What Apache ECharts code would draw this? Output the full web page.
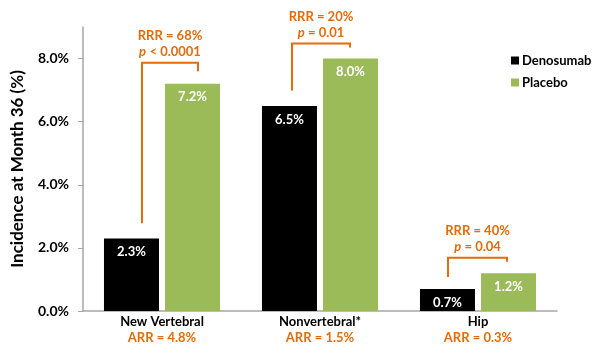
<!DOCTYPE html>
<html>
<head>
<meta charset="utf-8">
<script src="https://cdn.jsdelivr.net/npm/echarts@6/dist/echarts.min.js"></script>
<style>
html, body { margin: 0; padding: 0; background: #fff; }
#main { width: 600px; height: 354px; }
</style>
</head>
<body>
<div id="main"></div>
<script>
// data
var categories = ['New Vertebral', 'Nonvertebral*', 'Hip'];
var arrText = ['4.8%', '1.5%', '0.3%'];
var denosumab = [2.3, 6.5, 0.7];
var placebo = [7.2, 8.0, 1.2];
var yTicks = [0, 2, 4, 6, 8];

// brackets: [category, left leg bottom, top, right leg bottom] (in %)
var brackets = [
    [0, 2.78, 7.87, 7.6],
    [1, 6.99, 8.48, 8.35],
    [2, 1.08, 1.69, 1.56]
];
var rrrText = ['RRR = 68%', 'RRR = 20%', 'RRR = 40%'];
var pText = ['< 0.0001', '= 0.01', '= 0.04'];

var FONT = 'Lato';
var ORANGE = '#E46C0A';
var AXIS = '#A6A6A6';
// leg x offsets from the category centre (px)
var legShift = [[-20, 36], [-28, 30], [-30, 29]];

var chart = echarts.init(document.getElementById('main'));

var option = {
    animation: false,
    textStyle: { fontFamily: FONT },
    grid: { left: 83, right: 43, top: 27, bottom: 43 },
    legend: {
        orient: 'vertical',
        left: 506,
        top: 49,
        itemWidth: 8,
        itemHeight: 8,
        itemGap: 9,
        icon: 'rect',
        textStyle: { fontFamily: FONT, fontWeight: 'bold', fontSize: 13, color: '#000', padding: [0, 0, 0, -2] },
        data: ['Denosumab', 'Placebo']
    },
    xAxis: {
        type: 'category',
        data: categories,
        axisLine: { lineStyle: { color: AXIS, width: 1.5 } },
        axisTick: { length: 5, lineStyle: { color: AXIS } },
        axisLabel: {
            margin: 3,
            formatter: function (v, i) {
                return '{n|' + v + '}\n{a|ARR = ' + arrText[i] + '}';
            },
            rich: {
                n: { fontFamily: FONT, fontWeight: 'bold', fontSize: 13, color: '#000', lineHeight: 16 },
                a: { fontFamily: FONT, fontWeight: 'bold', fontSize: 13, color: ORANGE, lineHeight: 16 }
            }
        }
    },
    yAxis: {
        type: 'value',
        min: 0,
        max: 9,
        name: 'Incidence at Month 36 (%)',
        nameLocation: 'middle',
        nameGap: 57,
        nameTextStyle: { fontFamily: FONT, fontWeight: 'bold', fontSize: 17, color: '#000' },
        splitLine: { show: false },
        axisLine: { show: true, lineStyle: { color: AXIS, width: 1.5 } },
        axisTick: { show: true, length: 5, customValues: yTicks, lineStyle: { color: AXIS } },
        axisLabel: {
            customValues: yTicks,
            margin: 14,
            fontFamily: FONT, fontWeight: 'bold', fontSize: 14, color: '#000',
            formatter: function (v) { return v.toFixed(1) + '%'; }
        }
    },
    series: [
        {
            name: 'Denosumab',
            type: 'bar',
            data: denosumab,
            barWidth: 55,
            barGap: '11%',
            itemStyle: { color: '#000000' },
            label: {
                show: true, position: 'insideTop', distance: 7,
                color: '#fff', fontFamily: FONT, fontWeight: 'bold', fontSize: 13,
                formatter: function (p) { return p.value.toFixed(1) + '%'; }
            }
        },
        {
            name: 'Placebo',
            type: 'bar',
            data: placebo,
            barWidth: 55,
            itemStyle: { color: '#9BBB59' },
            label: {
                show: true, position: 'insideTop', distance: 7,
                color: '#fff', fontFamily: FONT, fontWeight: 'bold', fontSize: 13,
                formatter: function (p) { return p.value.toFixed(1) + '%'; }
            }
        },
        {
            type: 'custom',
            silent: true,
            clip: false,
            encode: { x: 0, y: [1, 2, 3] },
            data: brackets,
            renderItem: function (params, api) {
                var i = params.dataIndex;
                var c = api.value(0);
                var lb = api.coord([c, api.value(1)]);
                var tp = api.coord([c, api.value(2)]);
                var rb = api.coord([c, api.value(3)]);
                var xl = lb[0] + legShift[i][0];
                var xr = lb[0] + legShift[i][1];
                return {
                    type: 'group',
                    children: [
                        {
                            type: 'polyline',
                            shape: { points: [[xl, lb[1]], [xl, tp[1]], [xr, tp[1]], [xr, rb[1]]] },
                            style: { stroke: ORANGE, lineWidth: 2, fill: null }
                        },
                        {
                            type: 'text',
                            x: (xl + xr) / 2,
                            y: tp[1] - 3,
                            style: {
                                text: '{r|' + rrrText[i] + '}\n{i|p} {r|' + pText[i] + '}',
                                align: 'center',
                                verticalAlign: 'bottom',
                                rich: {
                                    r: { fontFamily: FONT, fontWeight: 'bold', fontSize: 13, fill: ORANGE, lineHeight: 16 },
                                    i: { fontFamily: FONT, fontWeight: 'bold', fontStyle: 'italic', fontSize: 13, fill: ORANGE, lineHeight: 16 }
                                }
                            }
                        }
                    ]
                };
            }
        }
    ]
};

chart.setOption(option);
</script>
</body>
</html>
